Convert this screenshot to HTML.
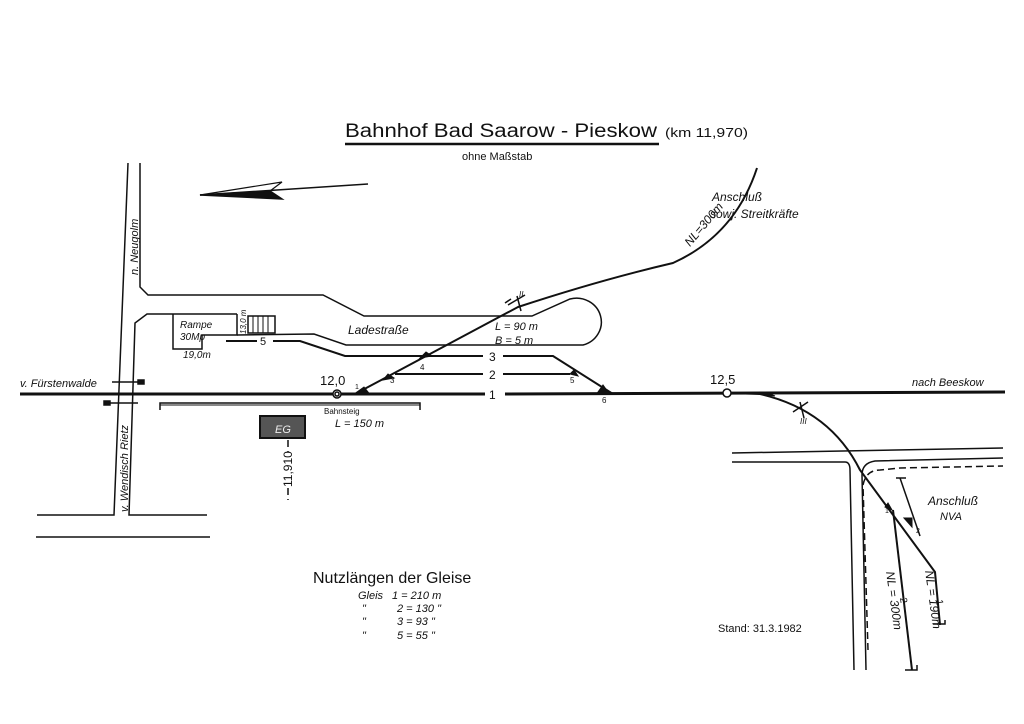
<!DOCTYPE html>
<html><head><meta charset="utf-8"><style>
html,body{margin:0;padding:0;background:#fff;}
svg{display:block;}
text{font-family:"Liberation Sans","DejaVu Sans",sans-serif;fill:#111;}
.i{font-style:italic;}
</style></head><body>
<svg width="1024" height="724" viewBox="0 0 1024 724" xmlns="http://www.w3.org/2000/svg">
<rect width="1024" height="724" fill="#fff"/>
<g stroke="#111" fill="none" stroke-width="1.5">
<line x1="345" y1="144" x2="659" y2="144" stroke-width="2.5"/>
<line x1="200" y1="195" x2="368" y2="184"/>
<path d="M200,195 L282,182 L270,191 Z" stroke-width="1.2"/>
<path d="M200,195 L270,191 L282,199 Z" fill="#111"/>
<path d="M128,163 L114,515 L37,515"/>
<path d="M140,163 L140,287 L148,295 L323,295 L364,316 L532,316 L570,299 A24,23 0 0 1 583,345 L346,345 L314,334 L237,335"/>
<path d="M36,537 L210,537"/>
<path d="M207,515 L129,515 L135,323 L147,314 L237,314"/>
<path d="M173,314 L173,349 L202,349 L202,335 L237,335 L237,314"/>
<rect x="248" y="316" width="27" height="17"/>
<g stroke-width="1"><line x1="253" y1="316" x2="253" y2="333"/><line x1="258" y1="316" x2="258" y2="333"/><line x1="263" y1="316" x2="263" y2="333"/><line x1="268" y1="316" x2="268" y2="333"/></g>
<path d="M226,341 L257,341 M273,341 L300,341 L345,356 L483,356 M503,356 L553,356 L613,394" stroke-width="2"/>
<path d="M395,374 L483,374 M503,374 L570,374" stroke-width="2"/>
<path d="M20,394 L485,394 M505,394 L1005,392" stroke-width="3"/>
<path d="M112,382 L142,382 M107,403 L138,403"/>
<rect x="138" y="380" width="6" height="4" fill="#111"/>
<rect x="104" y="401" width="6" height="4" fill="#111"/>
<path d="M160,410 L160,403 L420,403 L420,410"/>
<line x1="160" y1="405" x2="420" y2="405" stroke-width="1"/>
<rect x="260" y="416" width="45" height="22" fill="#555" stroke-width="2"/>
<line x1="288" y1="440" x2="288" y2="452" stroke-dasharray="7,4"/>
<line x1="288" y1="488" x2="288" y2="500" stroke-dasharray="7,4"/>
<path d="M355,394 L518,307 Q600,280 673,263 Q735,235 757,168" stroke-width="2"/>
<g fill="#111" stroke-width="1">
<path d="M357,392 L368,392 L364,387Z"/><path d="M383,380 L394,378 L388,374Z"/>
<path d="M420,358 L432,356 L426,352Z"/><path d="M570,374 L578,376 L574,370Z"/>
<path d="M598,392 L608,392 L603,385Z"/><path d="M758,394 L775,396 L765,392Z"/>
<path d="M885,507 L892,510 L888,503Z"/><path d="M904,518 L912,527 L912,518Z"/>
</g>
<path d="M508,305 L525,295 M517,296 L521,311 M505,303 L511,299" />
<path d="M793,412 L808,402 M800,402 L804,418" />
<circle cx="337" cy="394" r="4" fill="#fff"/><circle cx="337" cy="394" r="2" />
<circle cx="727" cy="393" r="4" fill="#fff"/>
<path d="M732,453 L1003,448"/>
<path d="M732,462 L845,462 Q850,462 850,470 L854,670"/>
<path d="M866,670 L862,475 Q862,463 875,461 L1003,458"/>
<path d="M868,650 L863,485 Q866,470 880,470 L900,468 L1003,466" stroke-dasharray="7,4"/>
<path d="M731,393 L760,394 Q830,410 860,470 L935,572 L940,625" stroke-width="2"/>
<path d="M933,624 L945,624 L945,620"/>
<path d="M893,510 L912,670" stroke-width="2"/>
<path d="M905,670 L917,670 L917,665"/>
<path d="M900,478 L920,536"/>
<path d="M896,478 L906,478"/>
</g>
<text x="345" y="137" font-size="19" textLength="312" lengthAdjust="spacingAndGlyphs">Bahnhof Bad Saarow - Pieskow</text>
<text x="665" y="137" font-size="13" textLength="83" lengthAdjust="spacingAndGlyphs">(km 11,970)</text>
<text x="462" y="160" font-size="11">ohne Maßstab</text>
<text x="712" y="201" font-size="12" class="i">Anschluß</text>
<text x="710" y="218" font-size="12" class="i">sowj. Streitkräfte</text>
<text x="0" y="0" font-size="12" class="i" transform="translate(690,247) rotate(-50)">NL=300m</text>
<text x="0" y="0" font-size="11" class="i" transform="translate(138,275) rotate(-90)">n. Neugolm</text>
<text x="0" y="0" font-size="11" class="i" transform="translate(128,512) rotate(-90)">v. Wendisch Rietz</text>
<text x="20" y="387" font-size="11" class="i">v. Fürstenwalde</text>
<text x="180" y="328" font-size="10" class="i">Rampe</text>
<text x="180" y="340" font-size="10" class="i">30Mp</text>
<text x="183" y="358" font-size="10" class="i">19,0m</text>
<text x="0" y="0" font-size="8" class="i" transform="translate(246,334) rotate(-90)">13,0 m</text>
<text x="260" y="345" font-size="11">5</text>
<text x="348" y="334" font-size="12" class="i">Ladestraße</text>
<text x="495" y="330" font-size="11" class="i">L = 90 m</text>
<text x="495" y="344" font-size="11" class="i">B =  5 m</text>
<text x="489" y="361" font-size="12">3</text>
<text x="489" y="379" font-size="12">2</text>
<text x="489" y="399" font-size="12">1</text>
<text x="320" y="385" font-size="13">12,0</text>
<text x="710" y="384" font-size="13">12,5</text>
<text x="912" y="386" font-size="11" class="i">nach Beeskow</text>
<text x="355" y="389" font-size="7">1</text>
<text x="390" y="383" font-size="8">3</text>
<text x="420" y="370" font-size="8">4</text>
<text x="570" y="383" font-size="8">5</text>
<text x="602" y="403" font-size="8">6</text>
<text x="324" y="414" font-size="8">Bahnsteig</text>
<text x="335" y="427" font-size="11" class="i">L = 150 m</text>
<text x="275" y="433" font-size="11" class="i" style="fill:#eee">EG</text>
<text x="0" y="0" font-size="12" transform="translate(292,487) rotate(-90)">11,910</text>
<text x="519" y="297" font-size="8" class="i">II</text>
<text x="800" y="424" font-size="8" class="i">III</text>
<text x="928" y="505" font-size="12" class="i">Anschluß</text>
<text x="940" y="520" font-size="11" class="i">NVA</text>
<text x="885" y="513" font-size="7">1</text>
<text x="916" y="533" font-size="7">2</text>
<text x="0" y="0" font-size="12" class="i" transform="translate(886,572) rotate(82)">NL = 300m</text>
<text x="0" y="0" font-size="12" class="i" transform="translate(925,571) rotate(82)">NL = 190m</text>
<text x="0" y="0" font-size="10" transform="translate(900,598) rotate(82)">2</text>
<text x="0" y="0" font-size="10" transform="translate(936,600) rotate(82)">1</text>
<text x="718" y="632" font-size="11">Stand: 31.3.1982</text>
<text x="313" y="583" font-size="16">Nutzlängen der Gleise</text>
<g font-size="11" class="i">
<text x="358" y="599" class="i">Gleis</text>
<text x="362" y="612" class="i">"</text><text x="362" y="625" class="i">"</text><text x="362" y="639" class="i">"</text>
<text x="392" y="599" class="i">1 = 210 m</text>
<text x="397" y="612" class="i">2 = 130 "</text>
<text x="397" y="625" class="i">3 =   93 "</text>
<text x="397" y="639" class="i">5 =   55 "</text>
</g>
</svg>
</body></html>
